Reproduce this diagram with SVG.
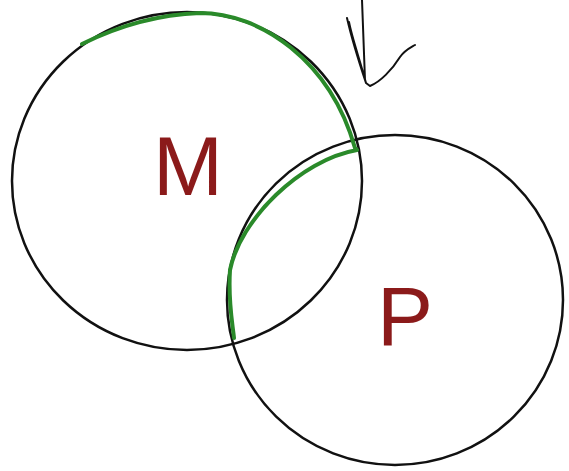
<svg xmlns="http://www.w3.org/2000/svg" width="569" height="471" viewBox="0 0 569 471">
<style>
.c{fill:none;stroke:#111;stroke-width:2.5}
.g{fill:none;stroke:#2a8a2a;stroke-width:4;stroke-linecap:round;stroke-linejoin:round}
.t{font-family:"Liberation Sans",Arial,sans-serif;font-size:84px;fill:#8b1a1a}
.a{fill:none;stroke:#111;stroke-width:2;stroke-linecap:round;stroke-linejoin:round}
</style>
<rect width="569" height="471" fill="#fff"/>
<g id="M">
<ellipse class="c" cx="187" cy="181" rx="175" ry="169"/>
<text class="t" x="188" y="195" text-anchor="middle">M</text>
</g>
<g id="P">
<ellipse class="c" cx="395" cy="300" rx="168" ry="165"/>
<text class="t" x="405" y="345" text-anchor="middle">P</text>
</g>
<g id="connectors">
<path class="g" d="M82,44 C110,30 150,15 200,13 C260,13 330,60 355,148 L357,150 C300,160 240,220 230,270 C228,300 232,320 234,338"/>
<path class="a" d="M362,0 L365,80 M347,18 C352,40 360,65 366,83 C360,60 352,38 349,22 M366,83 L370,86 C380,82 392,70 400,57 C405,50 410,48 415,45"/>
</g>
</svg>
